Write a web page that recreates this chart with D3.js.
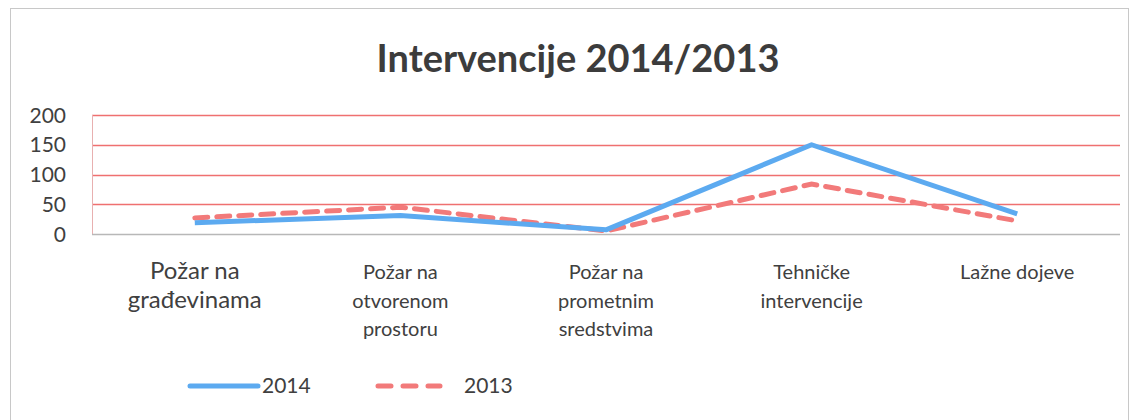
<!DOCTYPE html>
<html>
<head>
<meta charset="utf-8">
<script src="https://d3js.org/d3.v7.min.js"></script>
<style>
  body { margin: 0; background: #fff; }
  text { font-family: Lato, "Open Sans", sans-serif; fill: #404040; }
</style>
</head>
<body>
<div id="chart"></div>
<script>
// data
var categories = [
  ["Požar na", "građevinama"],
  ["Požar na", "otvorenom", "prostoru"],
  ["Požar na", "prometnim", "sredstvima"],
  ["Tehničke", "intervencije"],
  ["Lažne dojeve"]
];
var values2014 = [19, 31, 7, 150, 34];
var values2013 = [27, 45, 5, 84, 22];
var yTicks = [0, 50, 100, 150, 200];

var W = 1138, H = 420;
var margin = {top: 115, right: 18, bottom: 186, left: 92};
var width = W - margin.left - margin.right,
    height = H - margin.top - margin.bottom;

var svg = d3.select("#chart").append("svg")
    .attr("width", W).attr("height", H);

// outer chart border
svg.append("rect")
    .attr("x", 10.5).attr("y", 8.5)
    .attr("width", 1118).attr("height", 420)
    .attr("fill", "none").attr("stroke", "#c8c8c8");

svg.append("text")
    .attr("x", 578).attr("y", 72)
    .attr("text-anchor", "middle")
    .style("font-size", "38px").style("font-weight", "bold")
    .style("fill", "#3c3c3c")
    .text("Intervencije 2014/2013");

var g = svg.append("g")
    .attr("transform", "translate(" + margin.left + "," + margin.top + ")");

var x = d3.scaleBand()
    .domain(d3.range(categories.length))
    .range([0, width]);

var y = d3.scaleLinear()
    .domain([0, 200])
    .range([height, 0]);

// gridlines
g.selectAll(".grid")
  .data(yTicks.filter(function(d) { return d > 0; }))
  .enter().append("line")
    .attr("x1", 0).attr("x2", width)
    .attr("y1", function(d) { return Math.round(y(d)) + 0.5; })
    .attr("y2", function(d) { return Math.round(y(d)) + 0.5; })
    .attr("stroke", "#ef7070").attr("stroke-width", 1.5);

// left edge of plot area
g.append("line")
    .attr("x1", 0.5).attr("x2", 0.5)
    .attr("y1", 0).attr("y2", height)
    .attr("stroke", "#e8b0b0");

// zero axis
g.append("line")
    .attr("x1", 0).attr("x2", width)
    .attr("y1", height + 0.5).attr("y2", height + 0.5)
    .attr("stroke", "#b8b8b8").attr("stroke-width", 1.5);

// y tick labels
g.selectAll(".ytick")
  .data(yTicks)
  .enter().append("text")
    .attr("x", -26)
    .attr("y", function(d) { return y(d); })
    .attr("dy", "0.36em")
    .attr("text-anchor", "end")
    .style("font-size", "21px")
    .text(function(d) { return d; });

// x labels
var xl = g.selectAll(".xlab")
  .data(categories)
  .enter().append("text")
    .attr("text-anchor", "middle")
    .style("font-size", function(d, i) { return i === 0 ? "24px" : "20px"; });
xl.selectAll("tspan")
  .data(function(d, i) { return d.map(function(s) { return {s: s, i: i}; }); })
  .enter().append("tspan")
    .attr("x", function(d) { return x(d.i) + x.bandwidth() / 2; })
    .attr("y", function(d, j) { return height + 45 + j * 28.5; })
    .text(function(d) { return d.s; });

var line = d3.line()
    .x(function(d, i) { return x(i) + x.bandwidth() / 2; })
    .y(function(d) { return y(d); });

g.append("path")
    .datum(values2013)
    .attr("d", line)
    .attr("fill", "none")
    .attr("stroke", "#f27a7a")
    .attr("stroke-width", 5)
    .attr("stroke-dasharray", "13,9")
    .attr("stroke-linecap", "round");

g.append("path")
    .datum(values2014)
    .attr("d", line)
    .attr("fill", "none")
    .attr("stroke", "#5caaf0")
    .attr("stroke-width", 5)
    .attr("stroke-linejoin", "round");

// legend
var leg = svg.append("g");
leg.append("line")
    .attr("x1", 190).attr("x2", 258).attr("y1", 386).attr("y2", 386)
    .attr("stroke", "#5caaf0").attr("stroke-width", 5).attr("stroke-linecap", "round");
leg.append("text")
    .attr("x", 262).attr("y", 393)
    .style("font-size", "21px").text("2014");
leg.append("line")
    .attr("x1", 378).attr("x2", 440).attr("y1", 386).attr("y2", 386)
    .attr("stroke", "#f27a7a").attr("stroke-width", 5)
    .attr("stroke-dasharray", "13,12").attr("stroke-linecap", "round");
leg.append("text")
    .attr("x", 464).attr("y", 393)
    .style("font-size", "21px").text("2013");
</script>
</body>
</html>
